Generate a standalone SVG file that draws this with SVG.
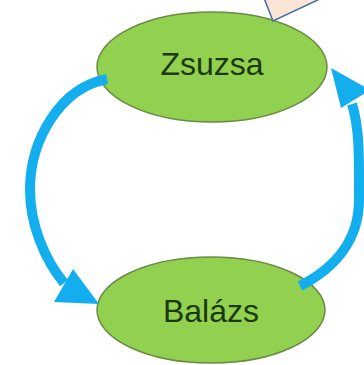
<svg xmlns="http://www.w3.org/2000/svg" width="364" height="365" viewBox="0 0 364 365">
<style>
.node ellipse{fill:#92d050;stroke:#6a8a45;stroke-width:1.5}
.node text{font-family:"Liberation Sans",Arial,sans-serif;font-size:32px;fill:#1b3a0b;text-anchor:middle}
.shaft{fill:none;stroke:#12aeee;stroke-width:10}
.head{fill:#12aeee}
</style>
<rect width="364" height="365" fill="#ffffff"/>
<g id="node-zsuzsa" class="node">
<ellipse cx="212" cy="67" rx="115" ry="55"/>
<text x="212" y="75">Zsuzsa</text>
</g>
<g id="node-balazs" class="node">
<ellipse cx="211" cy="310" rx="114" ry="53"/>
<text x="211" y="322">Balázs</text>
</g>
<g id="callout">
<polygon points="264,-2 273,21 322,-2" fill="#fbe5d6" stroke="#41719c" stroke-width="1.5"/>
</g>
<g id="connectors">
<path class="shaft" d="M107,79 C60,88 30,140 30,190 C30,225 45,260 64,283"/>
<polygon class="head" points="73,269 54,302 99,304"/>
<path class="shaft" d="M300,286 C335,268 359,240 359,200 C359,160 360,130 352,104"/>
<polygon class="head" points="331,68 341,108 370,90"/>
</g>
</svg>
